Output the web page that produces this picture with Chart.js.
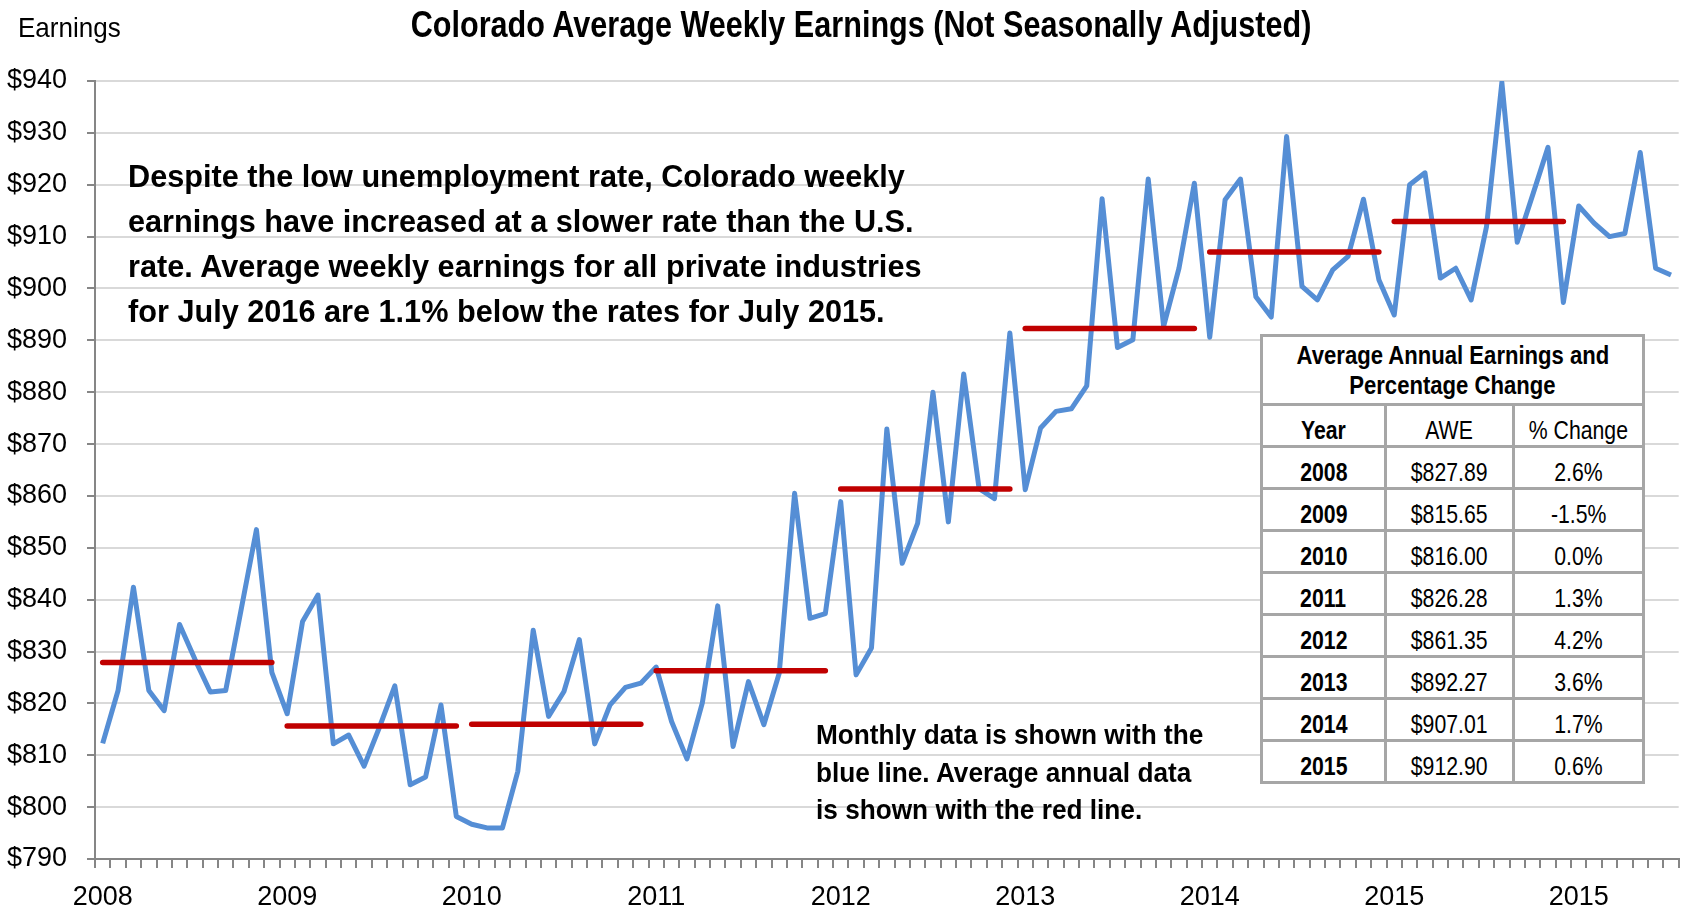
<!DOCTYPE html>
<html>
<head>
<meta charset="utf-8">
<script src="https://cdn.jsdelivr.net/npm/chart.js@4/dist/chart.umd.min.js"></script>
<style>
  body { margin: 0; background: #fff; }
  #wrap { position: relative; width: 1684px; height: 914px; font-family: 'Liberation Sans Narrow', 'Arial Narrow', 'Liberation Sans', sans-serif; color: #000; }
  #line { position: absolute; left: 0; top: 0; }
  #title { position: absolute; left: 861px; top: 0; line-height: 50px; font-size: 36px; font-weight: bold; white-space: nowrap; transform: translateX(-50%) scaleX(0.85); }
  #ylabel { position: absolute; left: 18px; top: 12px; font-size: 28px; transform-origin: 0 50%; transform: scaleX(0.93); }
  #note1 { position: absolute; left: 128px; top: 154px; font-size: 31px; font-weight: bold; line-height: 45px; white-space: nowrap; transform-origin: 0 50%; transform: scaleX(0.989); }
  #note2 { position: absolute; left: 816px; top: 716px; font-size: 28px; font-weight: bold; line-height: 37.5px; white-space: nowrap; transform-origin: 0 50%; transform: scaleX(0.936); }
  #awe { position: absolute; left: 1260px; top: 334px; width: 385px; border-collapse: collapse; background: #fff; font-size: 25px; }
  #awe td, #awe th { border: 3px solid #A6A6A6; text-align: center; padding: 10px 0 0 0; height: 29px; }
  #awe th.cap { font-size: 26px; line-height: 30px; height: 66px; padding: 0; }
  #awe .b { font-weight: bold; }
  #awe span { display: inline-block; white-space: nowrap; transform: scaleX(0.85); }
</style>
</head>
<body>
<div id="wrap">
  <canvas id="line" width="1684" height="914"></canvas>
  <div id="title">Colorado Average Weekly Earnings (Not Seasonally Adjusted)</div>
  <div id="ylabel">Earnings</div>
  <div id="note1">Despite the low unemployment rate, Colorado weekly<br>earnings have increased at a slower rate than the U.S.<br>rate. Average weekly earnings for all private industries<br>for July 2016 are 1.1% below the rates for July 2015.</div>
  <div id="note2">Monthly data is shown with the<br>blue line. Average annual data<br>is shown with the red line.</div>
  <table id="awe"></table>
</div>
<script>
// year labels on the x axis (the last one is "2015" in the original too)
const yearLabels = ["2008", "2009", "2010", "2011", "2012", "2013", "2014", "2015", "2015"];

// monthly average weekly earnings, Jan..Dec
const earnings2008 = [812.3, 822.5, 842.4, 822.5, 818.6, 835.2, 828.5, 822.2, 822.5, 838.0, 853.5, 826.0];
const earnings2009 = [818.0, 835.8, 840.9, 812.2, 813.9, 807.9, 815.4, 823.4, 804.3, 805.8, 819.7, 798.2];
const earnings2010 = [796.7, 796.0, 796.0, 806.9, 834.1, 817.5, 822.3, 832.3, 812.2, 819.7, 823.1, 823.9];
const earnings2011 = [827.0, 816.5, 809.3, 820.1, 838.8, 811.7, 824.2, 815.9, 825.8, 860.5, 836.4, 837.3];
const earnings2012 = [858.9, 825.5, 830.7, 872.9, 847.0, 854.7, 880.0, 855.0, 883.5, 861.4, 859.5, 891.4];
const earnings2013 = [861.2, 873.1, 876.3, 876.8, 881.2, 917.3, 888.6, 890.1, 921.1, 892.7, 903.9, 920.3];
const earnings2014 = [890.6, 917.1, 921.1, 898.4, 894.5, 929.3, 900.4, 897.8, 903.6, 906.2, 917.2, 901.7];
const earnings2015 = [894.9, 920.0, 922.3, 902.0, 903.9, 897.8, 911.9, 939.7, 908.9, 918.0, 927.2, 897.3];
const earnings2016 = [915.9, 912.6, 910.0, 910.6, 926.2, 903.9, 902.6];

// table: average annual earnings and percentage change
const tableYears = ["2008", "2009", "2010", "2011", "2012", "2013", "2014", "2015"];
const annualAverages = [827.89, 815.65, 816.00, 826.28, 861.35, 892.27, 907.01, 912.90];
const pctChange = [2.6, -1.5, 0.0, 1.3, 4.2, 3.6, 1.7, 0.6];

const years = [earnings2008, earnings2009, earnings2010, earnings2011, earnings2012,
               earnings2013, earnings2014, earnings2015, earnings2016];
const monthly = [].concat(...years);

const labels = [];
years.forEach((ys, y) => {
    ys.forEach((v, m) => labels.push(m === 0 ? yearLabels[y] : ""));
});

// one red segment per year, Jan..Dec at the annual average
const redSegments = annualAverages.map((avg, y) =>
    labels.map((l, i) => (i >= y * 12 && i < y * 12 + 12) ? avg : null));

const fontFamily = "'Liberation Sans Narrow', 'Arial Narrow', 'Liberation Sans', sans-serif";

const datasets = redSegments.map((seg, k) => ({
    label: "Average " + tableYears[k],
    data: seg,
    borderColor: "#C00000",
    borderWidth: 5.5,
    borderCapStyle: "round",
    pointRadius: 0
}));
datasets.push({
    label: "Monthly",
    data: monthly,
    borderColor: "#558ED5",
    borderWidth: 5,
    borderJoinStyle: "round",
    pointRadius: 0
});

const lineDiv = document.getElementById("line");
const lineChart = new Chart(lineDiv,
    {
        type: "line",
        data: {
            labels: labels,
            datasets: datasets
        },
        options: {
            responsive: false,
            animation: false,
            layout: { padding: { left: 0, right: 1, top: 81, bottom: 0 } },
            plugins: {
                legend: { display: false },
                tooltip: { enabled: false }
            },
            scales: {
                x: {
                    offset: true,
                    grid: { offset: true, drawOnChartArea: false, tickLength: 9, tickColor: "#868686", lineWidth: 2 },
                    border: { color: "#868686", width: 2 },
                    ticks: { autoSkip: false, maxRotation: 0, padding: 13, color: "#000", font: { family: fontFamily, size: 27 } },
                    afterFit: s => { s.height = 55; }
                },
                y: {
                    min: 790,
                    max: 940,
                    ticks: { stepSize: 10, padding: 20, color: "#000", font: { family: fontFamily, size: 27 }, callback: v => "$" + v },
                    grid: { color: "#D9D9D9", lineWidth: 2, tickLength: 8, tickColor: "#868686" },
                    border: { color: "#868686", width: 2 },
                    afterFit: s => { s.width = 95; }
                }
            }
        }
    });

// table
const table = document.getElementById("awe");
let html = '<tr><th colspan="3" class="cap"><span>Average Annual Earnings and</span><br><span>Percentage Change</span></th></tr>';
html += '<tr><td class="b" style="width:128px"><span>Year</span></td><td style="width:129px"><span>AWE</span></td><td style="width:128px"><span>% Change</span></td></tr>';
tableYears.forEach((y, i) => {
    html += '<tr><td class="b"><span>' + y + '</span></td><td><span>$' + annualAverages[i].toFixed(2) +
            '</span></td><td><span>' + pctChange[i].toFixed(1) + '%</span></td></tr>';
});
table.innerHTML = html;
</script>
</body>
</html>
